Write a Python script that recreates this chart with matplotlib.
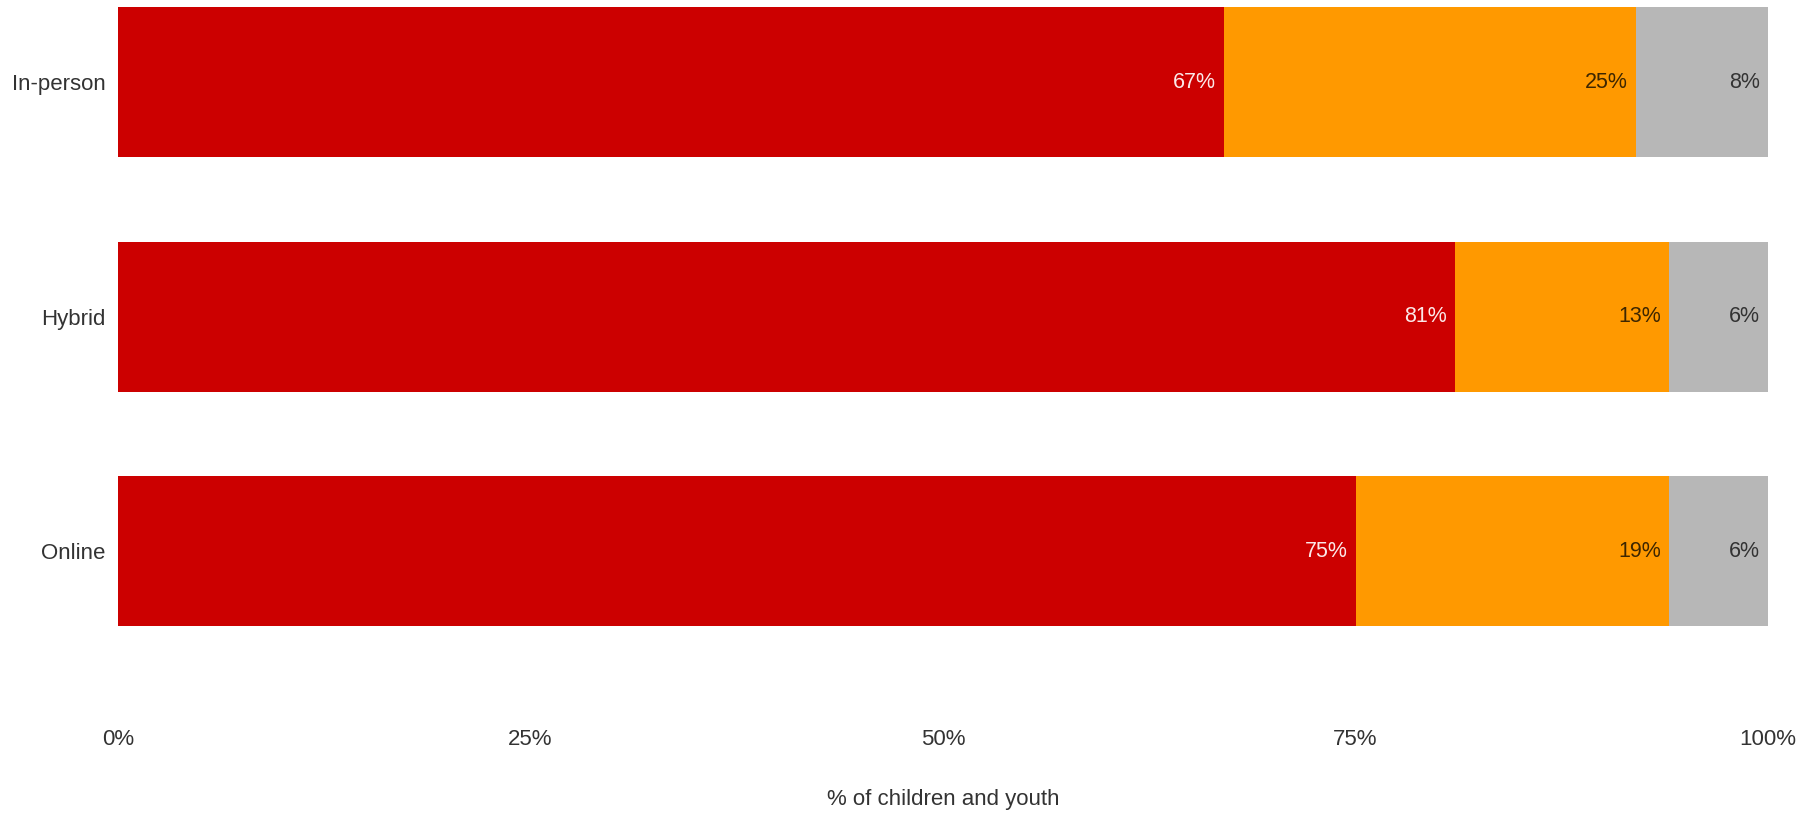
import matplotlib.pyplot as plt
import numpy as np
from matplotlib.ticker import PercentFormatter

plt.rcParams['font.family'] = ['Liberation Sans', 'DejaVu Sans']

# share of children and youth by delivery mode
modes = ['Online', 'Hybrid', 'In-person']
red_vals = [75, 81, 67]
orange_vals = [19, 13, 25]
gray_vals = [6, 6, 8]

x_ticks = [0, 25, 50, 75, 100]
x_title = '% of children and youth'

colors = ['#cc0000', '#ff9900', '#b7b7b7']
label_colors = ['#fbe9e9', '#3d2600', '#333333']

W, H = 1814, 816
fig = plt.figure(figsize=(W / 100, H / 100), dpi=100)
ax = fig.add_axes([118 / W, 1 - 710 / H, 1650 / W, 710 / H])

y = np.arange(len(modes))
left = np.zeros(len(modes))
for vals, c, lc in zip([red_vals, orange_vals, gray_vals], colors, label_colors):
    vals = np.array(vals, dtype=float)
    ax.barh(y, vals, left=left, height=0.64, color=c, linewidth=0)
    for yi, l, v in zip(y, left, vals):
        ax.annotate(f'{int(v)}%', xy=(l + v, yi), xytext=(-8, 0),
                    textcoords='offset pixels', ha='right', va='center',
                    fontsize=15.5, color=lc)
    left += vals

ax.set_xlim(0, 100)
ax.set_ylim(-0.678, 2.35)
ax.set_yticks(y)
ax.set_yticklabels(modes)
ax.set_xticks(x_ticks)
ax.xaxis.set_major_formatter(PercentFormatter(decimals=0))
ax.tick_params(axis='both', length=0, labelsize=16, colors='#333333')
ax.tick_params(axis='x', pad=14)
ax.tick_params(axis='y', pad=9)
for s in ax.spines.values():
    s.set_visible(False)

fig.text(943 / W, 1 - 800 / H, x_title, ha='center', va='center',
         fontsize=16, color='#333333')

fig.savefig('out.png', dpi=100)
